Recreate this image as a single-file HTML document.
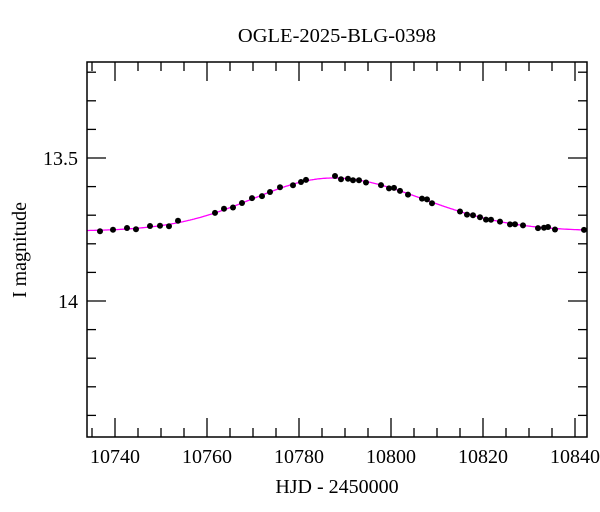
<!DOCTYPE html>
<html><head><meta charset="utf-8"><style>
html,body{margin:0;padding:0;background:#fff;}
svg{display:block;font-family:"Liberation Serif","DejaVu Serif",serif;}
</style></head><body>
<svg id="s" width="600" height="512" xmlns="http://www.w3.org/2000/svg">
<text x="337" y="42" font-size="20.5" text-anchor="middle">OGLE-2025-BLG-0398</text>
<text x="337" y="493" font-size="20" text-anchor="middle">HJD - 2450000</text>
<text transform="translate(26,250) rotate(-90)" font-size="20" text-anchor="middle">I magnitude</text>
<text x="78" y="165" font-size="20" text-anchor="end">13.5</text>
<text x="78" y="308" font-size="20" text-anchor="end">14</text>
<g id="ticks" stroke="#000" stroke-width="1.3"></g>
<path id="curve" fill="none" stroke="#ff00ff" stroke-width="1.3"/>
<g id="pts" fill="#000"></g>
<rect x="87" y="62" width="500" height="375" fill="none" stroke="#000" stroke-width="1.5"/>
<g id="xl" font-size="20" text-anchor="middle"></g>
</svg>
<script>
function X(d){return 115+(d-10740)*4.6;}
function Y(m){return 158+(m-13.5)*286;}
var t=document.getElementById('ticks'),h='';
for(var d=10735;d<=10840;d+=5){var x=X(d),L=(d%20==0)?19:9;
h+='<line x1="'+x+'" y1="437" x2="'+x+'" y2="'+(437-L)+'"/><line x1="'+x+'" y1="62" x2="'+x+'" y2="'+(62+L)+'"/>';}
for(var i=2;i<=14;i++){var m=13+i*0.1,y=Y(m),L=(i==5||i==10)?19:9;
h+='<line x1="87" y1="'+y+'" x2="'+(87+L)+'" y2="'+y+'"/><line x1="587" y1="'+y+'" x2="'+(587-L)+'" y2="'+y+'"/>';}
t.innerHTML=h;
var xl='';[10740,10760,10780,10800,10820,10840].forEach(function(d){xl+='<text x="'+X(d)+'" y="463">'+d+'</text>';});
document.getElementById('xl').innerHTML=xl;
function cy(x){var dt=(x-333)/4.6,s=dt<0?17.5:19.5;var f=Math.exp(-dt*dt/(2*s*s));return 231-53*f;}
var p='';for(var x=87;x<=587;x+=1){p+=(x==87?'M':'L')+x+','+cy(x).toFixed(1);}
document.getElementById('curve').setAttribute('d',p);
var xs=[100,113,127,136,150,160,169,178,215,224,233,242,252,262,270,280,293,301,306,335,341,348,353,359,366,381,389,394,400,408,422,427,432,460,467,473,480,486,491,500,510,515,523,538,544,548,555,584];
var jit=[1,0,-1,1,-1,0,2,-2,0,-1,1,0,-1,1,0,-1,1,0,-1,-2,1,0,1,0,1,0,1,-1,0,1,0,-1,1,0,1,0,0,1,0,0,1,0,0,1,0,-1,1,0];
var q='';xs.forEach(function(x,i){q+='<circle cx="'+x+'" cy="'+(cy(x)+jit[i]).toFixed(1)+'" r="3"/>';});
document.getElementById('pts').innerHTML=q;
</script>
</body></html>
